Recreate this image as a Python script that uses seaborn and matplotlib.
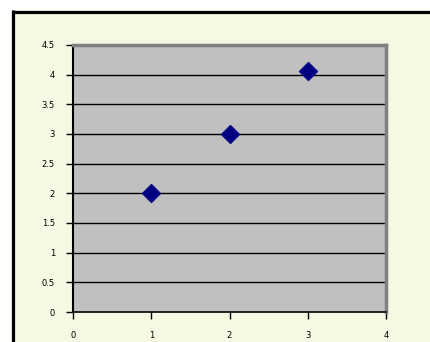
import matplotlib
matplotlib.use("Agg")
import matplotlib.pyplot as plt
import seaborn as sns
import pandas as pd
from matplotlib.lines import Line2D

x_values = [1, 2, 3]
y_values = [2.0, 3.0, 4.06]
x_ticks = [0, 1, 2, 3, 4]
y_ticks = [0, 0.5, 1, 1.5, 2, 2.5, 3, 3.5, 4, 4.5]
y_tick_labels = ["0", "0.5", "1", "1.5", "2", "2.5", "3", "3.5", "4", "4.5"]

df = pd.DataFrame({"x": x_values, "y": y_values})

sns.set_style("white")
plt.rcParams["font.family"] = ["DejaVu Sans"]

W, H = 431, 342
fig = plt.figure(figsize=(W / 100, H / 100), dpi=100)
fig.patch.set_facecolor("white")

# chart area background (beige) and black frame on top/left
bg = matplotlib.patches.Rectangle((12 / W, 0), 1 - 12 / W, 1 - 10 / H,
                                  transform=fig.transFigure, facecolor="#F3F9E2",
                                  edgecolor="none", zorder=-10)
fig.patches.append(bg)
fig.add_artist(Line2D([12 / W, 1], [1 - 11.5 / H, 1 - 11.5 / H], transform=fig.transFigure,
                      color="black", lw=2.3, solid_capstyle="butt"))
fig.add_artist(Line2D([13.5 / W, 13.5 / W], [0, 1 - 10 / H], transform=fig.transFigure,
                      color="black", lw=2.3, solid_capstyle="butt"))

ax = fig.add_axes([73 / W, 1 - 312 / H, (386 - 73) / W, (312 - 45) / H])
ax.set_facecolor("#C0C0C0")

for yv in y_ticks[1:-1]:
    ax.axhline(yv, color="black", lw=1.0, zorder=1)

sns.scatterplot(data=df, x="x", y="y", marker="D", s=80, color="#000080",
                edgecolor="#0A0A8A", linewidth=1.2, ax=ax, zorder=3, legend=False)

ax.set_xlim(0, 4)
ax.set_ylim(0, 4.5)
ax.set_xticks(x_ticks)
ax.set_xticklabels([str(t) for t in x_ticks])
ax.set_yticks(y_ticks)
ax.set_yticklabels(y_tick_labels)
ax.set_xlabel("")
ax.set_ylabel("")

ax.tick_params(axis="both", direction="out", length=5, width=1, color="black",
               labelsize=6, labelcolor="black")
ax.tick_params(axis="y", pad=8)
ax.tick_params(axis="x", pad=9)
ax.tick_params(left=True, bottom=True)

ax.spines["top"].set_color("#808080")
ax.spines["top"].set_linewidth(2.5)
ax.spines["right"].set_color("#808080")
ax.spines["right"].set_linewidth(2.5)
ax.spines["left"].set_color("black")
ax.spines["left"].set_linewidth(1.5)
ax.spines["bottom"].set_color("black")
ax.spines["bottom"].set_linewidth(1.2)
for s in ax.spines.values():
    s.set_visible(True)

fig.savefig("out.png", dpi=100, facecolor=fig.get_facecolor())
